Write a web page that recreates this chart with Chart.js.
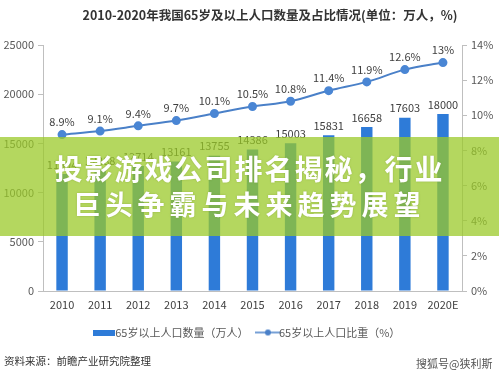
<!DOCTYPE html>
<html><head><meta charset="utf-8">
<script src="https://cdn.jsdelivr.net/npm/chart.js@4.4.1/dist/chart.umd.min.js"></script>
<style>
html,body{margin:0;padding:0;background:#fff;width:499px;height:374px;overflow:hidden;font-family:"Noto Sans CJK SC","Noto Sans",sans-serif;}
#wrap{position:relative;width:499px;height:374px;}
canvas{position:absolute;left:0;top:0;}
#title{position:absolute;left:0;width:540px;top:5px;text-align:center;font-size:12.5px;font-weight:bold;color:#333;white-space:nowrap;}
#band{position:absolute;left:0;top:137px;width:499px;height:99px;background:rgba(154,201,39,0.74);}
#band div{position:absolute;left:0;width:499px;text-align:center;color:#fff;font-weight:bold;white-space:nowrap;text-shadow:0 0 2px rgba(120,150,40,0.6);}
#l1{top:11px;font-size:28px;letter-spacing:2px;}
#l2{top:47px;font-size:27px;letter-spacing:5px;}
#src{position:absolute;left:4px;top:353px;font-size:10.5px;color:#333;white-space:nowrap;}
#wm{position:absolute;left:416px;top:355px;font-size:11px;color:#555;white-space:nowrap;}
</style></head>
<body><div id="wrap">
<canvas id="c" width="499" height="374"></canvas>
<div id="title">2010-2020年我国65岁及以上人口数量及占比情况(单位：万人，%)</div>
<div id="band"><div id="l1">投影游戏公司排名揭秘，行业</div><div id="l2">巨头争霸与未来趋势展望</div></div>
<div id="src">资料来源：前瞻产业研究院整理</div>
<div id="wm">搜狐号@狭利斯</div>
</div>
<script>
const years = ["2010","2011","2012","2013","2014","2015","2016","2017","2018","2019","2020E"];
const population = [11894,12288,12714,13161,13755,14386,15003,15831,16658,17603,18000];
const share = [8.9,9.1,9.4,9.7,10.1,10.5,10.8,11.4,11.9,12.6,13];
const leftTicks = [0,5000,10000,15000,20000,25000];
const rightTicks = [0,2,4,6,8,10,12,14];
const barName = "65岁以上人口数量（万人）";
const lineName = "65岁以上人口比重（%）";

const BAR = "#2E7BD8", LINE = "#4A80C8";
function swatchBar(){const c=document.createElement('canvas');c.width=22;c.height=6;const x=c.getContext('2d');x.fillStyle=BAR;x.fillRect(0,0,22,6);return c;}
function swatchLine(){const c=document.createElement('canvas');c.width=26;c.height=8;const x=c.getContext('2d');x.strokeStyle=LINE;x.lineWidth=1.5;x.beginPath();x.moveTo(0,4);x.lineTo(26,4);x.stroke();x.fillStyle=LINE;x.beginPath();x.arc(13,4,3,0,Math.PI*2);x.fill();return c;}

const labelPlugin = {
  id:'vals',
  afterDatasetsDraw(chart){
    const ctx=chart.ctx;ctx.save();
    ctx.font='11px "Noto Sans CJK SC"';ctx.fillStyle='#404040';ctx.textAlign='center';ctx.textBaseline='bottom';
    chart.getDatasetMeta(0).data.forEach((el,i)=>{ctx.fillText(String(population[i]),el.x,el.y-4);});
    chart.getDatasetMeta(1).data.forEach((el,i)=>{ctx.fillText(share[i]+'%',el.x,el.y-7);});
    ctx.restore();
  }
};

new Chart(document.getElementById('c'),{
  data:{labels:years,datasets:[
    {type:'bar',label:barName,data:population,backgroundColor:BAR,yAxisID:'y',barPercentage:0.3,categoryPercentage:1,order:2},
    {type:'line',label:lineName,data:share,borderColor:LINE,backgroundColor:LINE,borderWidth:2,pointRadius:3.5,pointBackgroundColor:'#4A86D4',pointBorderColor:'#4A86D4',tension:0.35,yAxisID:'y1',order:1}
  ]},
  options:{
    responsive:false,animation:false,
    layout:{padding:{top:45,left:0,right:0,bottom:26}},
    plugins:{
      title:{display:false},tooltip:{enabled:false},
      legend:{position:'bottom',labels:{
        usePointStyle:true,color:'#595959',font:{size:11,family:'"Noto Sans CJK SC"'},padding:14,
        generateLabels(chart){return [
          {text:barName,pointStyle:swatchBar(),fillStyle:BAR,strokeStyle:BAR,lineWidth:0,datasetIndex:0,fontColor:'#595959'},
          {text:lineName,pointStyle:swatchLine(),fillStyle:LINE,strokeStyle:LINE,lineWidth:0,datasetIndex:1,fontColor:'#595959'}
        ];}
      }}
    },
    scales:{
      x:{grid:{display:false,drawTicks:false},border:{color:'#BFBFBF'},ticks:{color:'#404040',font:{size:11,family:'"Noto Sans CJK SC"'},padding:7,maxRotation:0},
         afterFit(s){s.height=22;}},
      y:{position:'left',min:0,max:25000,afterBuildTicks(s){s.ticks=leftTicks.map(v=>({value:v}));},
         grid:{display:true,drawOnChartArea:false,tickLength:5,color:'#BFBFBF'},border:{color:'#BFBFBF'},
         ticks:{color:'#595959',font:{size:11,family:'"Noto Sans CJK SC"'},padding:4,callback:v=>String(v)},afterFit(s){s.width=43;}},
      y1:{position:'right',min:0,max:14,afterBuildTicks(s){s.ticks=rightTicks.map(v=>({value:v}));},
         grid:{display:true,drawOnChartArea:false,tickLength:5,color:'#BFBFBF'},border:{color:'#BFBFBF'},
         ticks:{color:'#595959',font:{size:11,family:'"Noto Sans CJK SC"'},padding:4,callback:v=>v+'%'},afterFit(s){s.width=37;}}
    }
  },
  plugins:[labelPlugin]
});
</script>
</body></html>
